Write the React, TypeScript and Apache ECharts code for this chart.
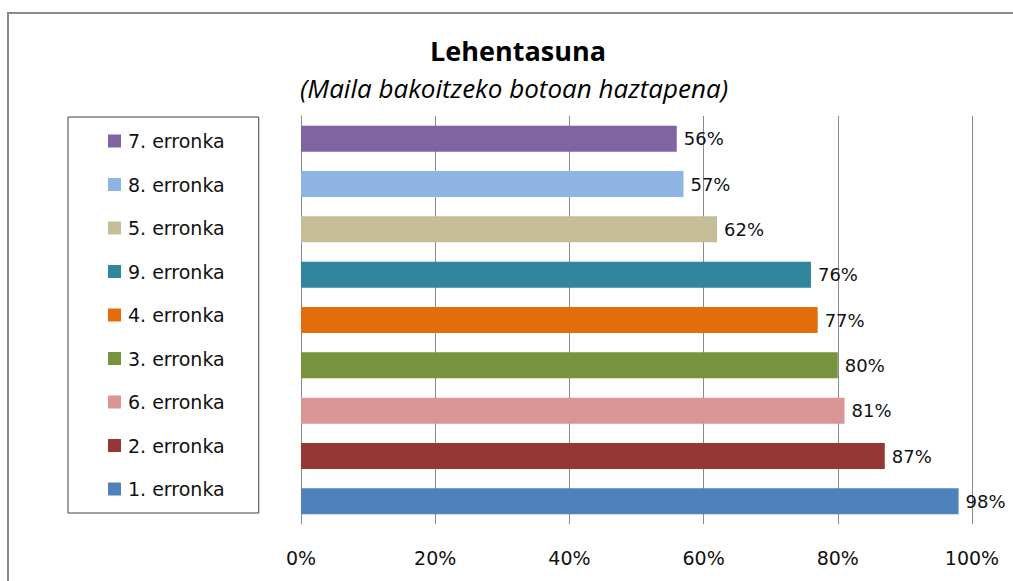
import React, { useEffect, useRef } from "react";
import * as echarts from "echarts";

const categories = [
  "7. erronka",
  "8. erronka",
  "5. erronka",
  "9. erronka",
  "4. erronka",
  "3. erronka",
  "6. erronka",
  "2. erronka",
  "1. erronka",
];
const values = [56, 57, 62, 76, 77, 80, 81, 87, 98];
const colors = [
  "#8064A2",
  "#8EB4E3",
  "#C4BD97",
  "#31859C",
  "#E46C0A",
  "#77933C",
  "#D99694",
  "#953735",
  "#4F81BD",
];
const xTicks = [0, 20, 40, 60, 80, 100];
const titleText = "Lehentasuna";
const subtitleText = "(Maila bakoitzeko botoan haztapena)";

export default function App() {
  const ref = useRef<HTMLDivElement>(null);
  useEffect(() => {
    if (!ref.current) return;
    const chart = echarts.init(ref.current, null, { renderer: "svg" });
    const font = "DejaVu Sans";
    const series = categories.map((name, i) => ({
      name,
      type: "bar",
      stack: "all",
      barWidth: 26,
      itemStyle: { color: colors[i] },
      label: {
        show: true,
        position: "right",
        distance: 7,
        formatter: "{c}%",
        fontFamily: font,
        fontSize: 18,
        color: "#111",
      },
      data: categories.map((_, j) => (j === i ? values[i] : "-")),
    }));
    chart.setOption({
      animation: false,
      backgroundColor: "#ffffff",
      graphic: [
        {
          type: "rect",
          shape: { x: 8, y: 13, width: 1100, height: 700 },
          style: { fill: "none", stroke: "#8a8a8a", lineWidth: 2 },
          silent: true,
        },
        {
          type: "text",
          x: 518,
          y: 50,
          style: {
            text: titleText,
            fontFamily: "Open Sans",
            fontWeight: "bold",
            fontSize: 27,
            fill: "#000",
            textAlign: "center",
            textVerticalAlign: "middle",
          },
        },
        {
          type: "text",
          x: 514,
          y: 88,
          style: {
            text: subtitleText,
            fontFamily: "Open Sans",
            fontStyle: "italic",
            fontSize: 26,
            fill: "#000",
            textAlign: "center",
            textVerticalAlign: "middle",
          },
        },
      ],
      legend: {
        orient: "vertical",
        left: 68,
        top: 117,
        padding: [14, 34, 14, 40],
        itemGap: 23.5,
        itemWidth: 13,
        itemHeight: 13,
        icon: "rect",
        selectedMode: false,
        borderColor: "#404040",
        borderWidth: 1,
        data: categories,
        textStyle: {
          fontFamily: font,
          fontSize: 19,
          color: "#111",
          lineHeight: 20,
          padding: [0, 0, 0, 2],
        },
      },
      grid: { left: 301, right: 41, top: 116, bottom: 57, containLabel: false },
      xAxis: {
        type: "value",
        min: xTicks[0],
        max: xTicks[xTicks.length - 1],
        interval: 20,
        axisLine: { show: false },
        axisTick: { show: false },
        splitLine: { show: true, lineStyle: { color: "#8a8a8a", width: 1 } },
        axisLabel: {
          formatter: "{value}%",
          fontFamily: font,
          fontSize: 19,
          color: "#111",
          margin: 24,
        },
      },
      yAxis: {
        type: "category",
        inverse: true,
        data: categories,
        axisLine: { show: true, lineStyle: { color: "#8a8a8a", width: 1 } },
        axisTick: { show: false },
        axisLabel: { show: false },
      },
      series,
    });
    return () => chart.dispose();
  }, []);
  return (
    <div
      ref={ref}
      style={{ position: "absolute", left: 0, top: 0, width: 1013, height: 581 }}
    />
  );
}
